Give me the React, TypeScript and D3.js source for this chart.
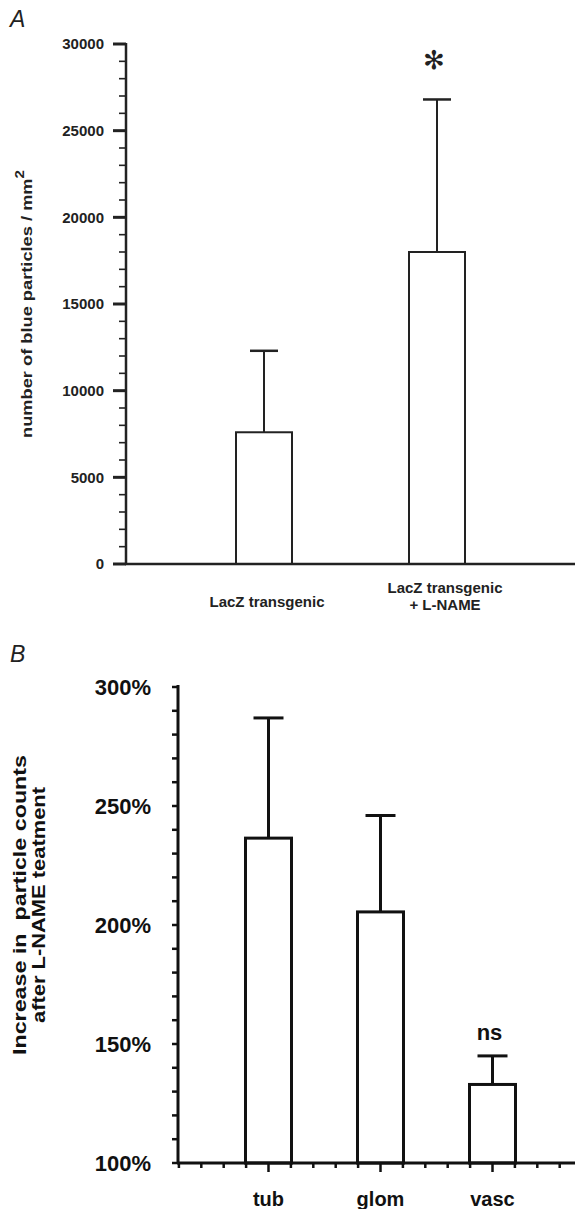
import * as d3 from 'd3';

// Panel A
const aCategories = ['LacZ transgenic', 'LacZ transgenic|+ L-NAME'];
const aMeans = [7600, 18000];
const aUpper = [12300, 26800];
const aTicks = [0, 5000, 10000, 15000, 20000, 25000, 30000];
const aMarks = ['', '*'];

// Panel B
const bCategories = ['tub', 'glom', 'vasc'];
const bMeans = [236.5, 205.5, 133];
const bUpper = [287, 246, 145];
const bTicks = [100, 150, 200, 250, 300];
const bMarks = ['', '', 'ns'];

const FONT = '"Liberation Sans", Arial, sans-serif';

export default function App() {
  // ---- panel A scales
  const yA = d3.scaleLinear().domain([0, 30000]).range([564, 44]);
  const xA = d3.scaleLinear().domain([0, 1]).range([264, 437]);
  const aMinor = d3.range(0, 30001, 1000);
  const barWA = 56;

  // ---- panel B scales
  const yB = d3.scaleLinear().domain([100, 300]).range([1163, 687]);
  const xB = d3.scaleLinear().domain([0, 1]).range([268.5, 380.5]);
  const bMinorY = d3.range(100, 301, 10);
  const bMinorX = d3.range(-0.8, 2.81, 0.2);
  const barWB = 46;

  return (
    <div style={{ position: 'absolute', left: 0, top: 0 }}>
      <svg width={575} height={1209} style={{ display: 'block', background: '#fff' }} fontFamily={FONT}>
        {/* panel letters */}
        <text x={10} y={27} fontSize={23} fontStyle="italic" fill="#222">A</text>
        <text x={10} y={662} fontSize={23} fontStyle="italic" fill="#222">B</text>

        {/* ===== Panel A ===== */}
        <g stroke="#222" strokeWidth={2}>
          {aMinor.map(v => (
            <line key={v} x1={v % 5000 === 0 ? 113 : 119} x2={126} y1={yA(v)} y2={yA(v)} strokeWidth={v % 5000 === 0 ? 3 : 1.6} />
          ))}
          <line x1={126} x2={126} y1={yA(30000) - 1} y2={yA(0)} strokeWidth={2.5} />
        </g>
        {aTicks.map(v => (
          <text key={v} x={104} y={yA(v)} dy="0.36em" textAnchor="end" fontSize={15} fontWeight="bold" fill="#222">{v}</text>
        ))}
        <text transform={`translate(32,${yA(15000)}) rotate(-90)`} textAnchor="middle" fontSize={14.5} fontWeight="bold" fill="#222"
          textLength={268} lengthAdjust="spacingAndGlyphs">
          number of blue particles / mm<tspan dy={-8} fontSize={12}>2</tspan>
        </text>
        {aMeans.map((m, i) => (
          <g key={i} fill="none" stroke="#222" strokeWidth={2}>
            <line x1={xA(i)} x2={xA(i)} y1={yA(m)} y2={yA(aUpper[i])} />
            <line x1={xA(i) - 14} x2={xA(i) + 14} y1={yA(aUpper[i])} y2={yA(aUpper[i])} strokeWidth={2.5} />
            <rect x={xA(i) - barWA / 2} y={yA(m)} width={barWA} height={yA(0) - yA(m)} fill="#fff" />
          </g>
        ))}
        <line x1={125} x2={575} y1={yA(0)} y2={yA(0)} stroke="#222" strokeWidth={2.5} />
        {aMarks.map((s, i) => s ? (
          <text key={i} x={xA(i) - 3} y={yA(aUpper[i]) - 30} textAnchor="middle" fontSize={26} fontFamily="DejaVu Sans" fill="#222">✻</text>
        ) : null)}
        {aCategories.map((c, i) => {
          const lines = c.split('|');
          const y0 = lines.length === 1 ? 607 : 593;
          const cx = xA(i) + (i === 0 ? 3 : 8);
          return (
            <text key={i} x={cx} y={y0} textAnchor="middle" fontSize={15} fontWeight="bold" fill="#222">
              {lines.map((l, j) => (
                <tspan key={j} x={cx} dy={j === 0 ? 0 : 17}>{l}</tspan>
              ))}
            </text>
          );
        })}

        {/* ===== Panel B ===== */}
        <g stroke="#111" strokeWidth={2.5}>
          {bMinorY.map(v => (
            <line key={v} x1={172} x2={178} y1={yB(v)} y2={yB(v)} />
          ))}
          {bMinorX.map((v, k) => {
            const major = Math.abs(v - Math.round(v)) < 0.01;
            return <line key={k} x1={xB(v)} x2={xB(v)} y1={yB(100)} y2={yB(100) + (major ? 9 : 5)} />;
          })}
          <line x1={178} x2={178} y1={yB(300) - 2} y2={yB(100)} strokeWidth={3} />
        </g>
        {bTicks.map(v => (
          <text key={v} x={151} y={yB(v)} dy="0.36em" textAnchor="end" fontSize={22} fontWeight="bold" fill="#111">{v}%</text>
        ))}
        <text transform={`translate(26,905) rotate(-90)`} textAnchor="middle" fontSize={18} fontWeight="bold" fill="#111"
          textLength={300} lengthAdjust="spacingAndGlyphs" style={{ whiteSpace: 'pre' }}>
          Increase in  particle counts
        </text>
        <text transform={`translate(45,905) rotate(-90)`} textAnchor="middle" fontSize={18} fontWeight="bold" fill="#111"
          textLength={236} lengthAdjust="spacingAndGlyphs">
          after L-NAME teatment
        </text>
        {bMeans.map((m, i) => (
          <g key={i} fill="none" stroke="#111" strokeWidth={3}>
            <line x1={xB(i)} x2={xB(i)} y1={yB(m)} y2={yB(bUpper[i])} />
            <line x1={xB(i) - 15} x2={xB(i) + 15} y1={yB(bUpper[i])} y2={yB(bUpper[i])} />
            <rect x={xB(i) - barWB / 2} y={yB(m)} width={barWB} height={yB(100) - yB(m)} fill="#fff" />
          </g>
        ))}
        <line x1={177} x2={575} y1={yB(100)} y2={yB(100)} stroke="#111" strokeWidth={3} />
        {bMarks.map((s, i) => s ? (
          <text key={i} x={xB(i) - 3} y={yB(bUpper[i]) - 16} textAnchor="middle" fontSize={22} fontWeight="bold" fill="#111">{s}</text>
        ) : null)}
        {bCategories.map((c, i) => (
          <text key={c} x={xB(i)} y={1206} textAnchor="middle" fontSize={20} fontWeight="bold" fill="#111">{c}</text>
        ))}
      </svg>
    </div>
  );
}
